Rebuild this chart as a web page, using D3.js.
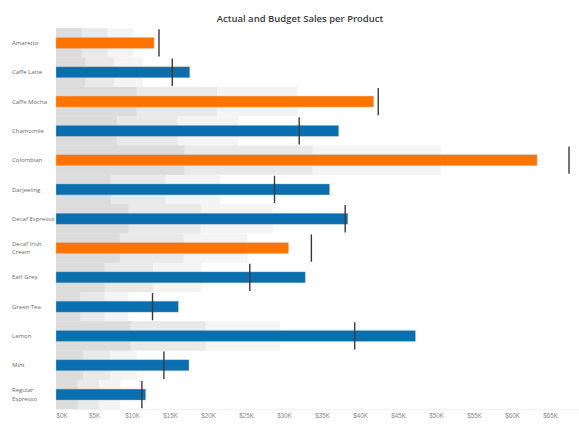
<!DOCTYPE html>
<meta charset="utf-8">
<style>
body { margin: 0; background: #fff; }
svg { display: block; font-family: "Open Sans", "DejaVu Sans", sans-serif; }
.axis path, .axis line { stroke: none; }
.axis text { font-size: 6.3px; fill: #8a8a8a; }
.row-label { font-size: 6px; fill: #6a6a6a; }
</style>
<svg width="579" height="425"></svg>
<script src="https://d3js.org/d3.v7.min.js"></script>
<script>

// Products, top to bottom
var products = ["Amaretto", "Caffe Latte", "Caffe Mocha", "Chamomile", "Colombian", "Darjeeling",
  "Decaf Espresso", "Decaf Irish Cream", "Earl Grey", "Green Tea", "Lemon", "Mint", "Regular Espresso"];

// Actual sales and budget sales (dollars)
var actual = [12900, 17600, 41800, 37200, 63300, 36000, 38400, 30600, 32800, 16100, 47300, 17500, 11800];
var budget = [13550, 15300, 42400, 32000, 67500, 28750, 38050, 33600, 25500, 12700, 39300, 14200, 11300];

// Reference bands, as share of budget (Tableau distribution band)
var bandShares = [0.75, 0.5, 0.25];
var bandColors = ["#f4f4f4", "#e9e9e9", "#dcdcdc"];

var tickValues = d3.range(0, 65001, 5000);

var svg = d3.select("svg"),
    margin = {top: 28.3, left: 56},
    rowH = 29.3,
    plotBottom = margin.top + rowH * products.length;

var x = d3.scaleLinear()
    .domain([0, 70000])
    .range([margin.left, 588]);

var y = d3.scaleBand()
    .domain(products)
    .range([margin.top, plotBottom]);

var rows = products.map(function(p, i) {
  return {name: p, actual: actual[i], budget: budget[i]};
});

svg.append("text")
    .attr("x", 300)
    .attr("y", 22)
    .attr("text-anchor", "middle")
    .style("font-size", "9.5px")
    .style("font-weight", "600")
    .style("fill", "#3a3a3a")
    .text("Actual and Budget Sales per Product");

// background bands
var bands = svg.append("g").attr("class", "bands");
bandShares.forEach(function(s, j) {
  bands.selectAll(null).data(rows).enter().append("rect")
      .attr("x", x(0))
      .attr("y", function(d) { return y(d.name); })
      .attr("width", function(d) { return x(d.budget * s) - x(0); })
      .attr("height", y.bandwidth())
      .attr("fill", bandColors[j]);
});

// faint baseline
svg.append("line")
    .attr("x1", x(0)).attr("x2", 579)
    .attr("y1", plotBottom + 0.5).attr("y2", plotBottom + 0.5)
    .attr("stroke", "#efefef");

// actual bars
var barH = 11;
svg.append("g").selectAll("rect").data(rows).enter().append("rect")
    .attr("x", x(0))
    .attr("y", function(d) { return y(d.name) + (y.bandwidth() - barH) / 2; })
    .attr("width", function(d) { return x(d.actual) - x(0); })
    .attr("height", barH)
    .attr("fill", function(d) { return d.actual < d.budget ? "#ff7400" : "#0a6fae"; })
    .attr("stroke", "rgba(200,200,200,0.6)")
    .attr("stroke-width", 0.6);

// budget markers
svg.append("g").selectAll("line").data(rows).enter().append("line")
    .attr("x1", function(d) { return x(d.budget); })
    .attr("x2", function(d) { return x(d.budget); })
    .attr("y1", function(d) { return y(d.name) + 1; })
    .attr("y2", function(d) { return y(d.name) + y.bandwidth() - 1; })
    .attr("stroke", "#3a3a3a")
    .attr("stroke-width", 1.4);

// row labels, wrapped like Tableau (one text per line)
var wrap = {"Decaf Irish Cream": ["Decaf Irish", "Cream"], "Regular Espresso": ["Regular", "Espresso"]};
var labelLines = [];
products.forEach(function(p) {
  var lines = wrap[p] || [p];
  lines.forEach(function(l, k) {
    labelLines.push({product: p, text: l, offset: lines.length === 1 ? 0 : (k === 0 ? -4.3 : 4.3)});
  });
});
svg.append("g").selectAll("text").data(labelLines).enter().append("text")
    .attr("class", "row-label")
    .attr("x", 12)
    .attr("y", function(d) { return y(d.product) + y.bandwidth() / 2 + d.offset; })
    .attr("dy", "0.35em")
    .text(function(d) { return d.text; });

// x axis
var fmt = function(v) { return "$" + (v / 1000) + "K"; };
var axis = svg.append("g")
    .attr("class", "axis")
    .attr("transform", "translate(0," + plotBottom + ")")
    .call(d3.axisBottom(x).tickValues(tickValues).tickFormat(fmt).tickSize(0).tickPadding(4));
axis.selectAll(".tick text")
    .attr("text-anchor", function(d) { return d === 0 ? "start" : "middle"; });

</script>
